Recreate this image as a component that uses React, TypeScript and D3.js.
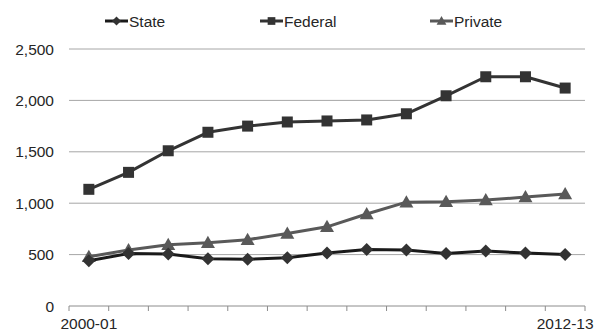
import React from "react";
import * as d3 from "d3";

const categories = ["2000-01","2001-02","2002-03","2003-04","2004-05","2005-06","2006-07","2007-08","2008-09","2009-10","2010-11","2011-12","2012-13"];
const stateValues = [440, 510, 505, 460, 455, 470, 515, 550, 545, 510, 535, 515, 500];
const federalValues = [1135, 1300, 1510, 1690, 1750, 1790, 1800, 1810, 1870, 2045, 2230, 2230, 2120];
const privateValues = [480, 545, 595, 615, 645, 705, 770, 895, 1010, 1015, 1030, 1060, 1090];
const yTicks = [0, 500, 1000, 1500, 2000, 2500];
const seriesNames = ["State", "Federal", "Private"];

const W = 597, H = 333;
const left = 69, right = 585, top = 49, bottom = 306;
const FS = 15.5;

function Marker({ type, x, y, color, k = 1 }: { type: string; x: number; y: number; color: string; k?: number }) {
  if (type === "diamond") {
    const s = 6.5 * k;
    return <path d={`M${x},${y - s}L${x + s},${y}L${x},${y + s}L${x - s},${y}Z`} fill={color} />;
  }
  if (type === "square") {
    const s = 5.5 * k;
    return <rect x={x - s} y={y - s} width={2 * s} height={2 * s} fill={color} />;
  }
  const s = 7 * k;
  return <path d={`M${x},${y - s}L${x + s},${y + s * 0.75}L${x - s},${y + s * 0.75}Z`} fill={color} />;
}

export default function App() {
  const x = d3.scaleBand<string>().domain(categories).range([left, right]);
  const y = d3.scaleLinear().domain([0, 2500]).range([bottom, top]);
  const fmt = d3.format(",");
  const series = [
    { name: seriesNames[0], values: stateValues, color: "#1a1a1a", marker: "diamond", mcolor: "#333333" },
    { name: seriesNames[1], values: federalValues, color: "#333333", marker: "square", mcolor: "#333333" },
    { name: seriesNames[2], values: privateValues, color: "#595959", marker: "triangle", mcolor: "#595959" },
  ];
  const cx = (c: string) => (x(c) as number) + x.bandwidth() / 2;
  const line = (vals: number[]) =>
    d3.line<number>().x((_, i) => cx(categories[i])).y((v) => y(v))(vals) as string;
  const legendX = [105, 260, 430];
  const tickPositions = categories.map((c) => x(c) as number).concat([right]);

  return (
    <svg width={W} height={H} style={{ position: "absolute", left: 0, top: 0, background: "#fff" }}
      fontFamily="'Liberation Sans', Arial, sans-serif">
      {yTicks.filter((t) => t > 0).map((t) => (
        <line key={t} x1={left} x2={right} y1={y(t)} y2={y(t)} stroke="#a6a6a6" strokeWidth={1} />
      ))}
      {yTicks.map((t) => (
        <text key={"l" + t} x={54} y={y(t) + 5.5} textAnchor="end" fontSize={FS} fill="#262626">{fmt(t)}</text>
      ))}
      <line x1={left} x2={right} y1={bottom} y2={bottom} stroke="#8c8c8c" strokeWidth={1} />
      {tickPositions.map((p, i) => (
        <line key={"t" + i} x1={p} x2={p} y1={bottom} y2={bottom + 5} stroke="#8c8c8c" strokeWidth={1} />
      ))}
      <text x={cx(categories[0])} y={329} textAnchor="middle" fontSize={FS} fill="#262626">{categories[0]}</text>
      <text x={cx(categories[categories.length - 1])} y={329} textAnchor="middle" fontSize={FS} fill="#262626">{categories[categories.length - 1]}</text>
      {[series[2], series[0], series[1]].map((s) => (
        <g key={s.name}>
          <path d={line(s.values)} fill="none" stroke={s.color} strokeWidth={3} strokeLinejoin="round" />
          {s.values.map((v, i) => (
            <Marker key={i} type={s.marker} x={cx(categories[i])} y={y(v)} color={s.mcolor} />
          ))}
        </g>
      ))}
      {series.map((s, i) => (
        <g key={"lg" + s.name}>
          <line x1={legendX[i]} x2={legendX[i] + 23} y1={21} y2={21} stroke={s.color} strokeWidth={3} />
          <Marker type={s.marker} x={legendX[i] + 11.5} y={21} color={s.mcolor} k={0.7} />
          <text x={legendX[i] + 24} y={26.5} fontSize={FS} fill="#262626">{s.name}</text>
        </g>
      ))}
    </svg>
  );
}
